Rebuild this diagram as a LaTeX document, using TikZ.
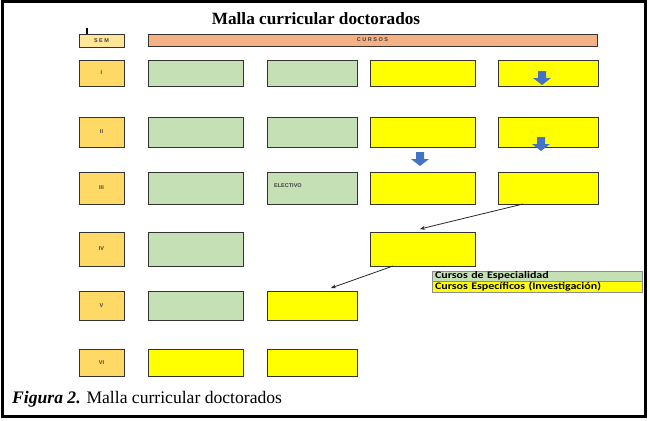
\documentclass[tikz,border=0pt]{standalone}
\usepackage{fontspec}
\setmainfont{Liberation Serif}
\setsansfont{Liberation Sans}
\newfontfamily\legendfont[FakeStretch=1.2]{Carlito}
\usetikzlibrary{arrows.meta,calc}
\definecolor{semcol}{HTML}{FFD966}
\definecolor{semhead}{HTML}{FFE699}
\definecolor{cursoscol}{HTML}{F4B183}
\definecolor{greencol}{HTML}{C5E0B4}
\definecolor{yellowcol}{HTML}{FFFF00}
\definecolor{bluecol}{HTML}{4472C4}
\definecolor{labelcol}{HTML}{404040}
\tikzset{
  cellbox/.style={draw=black!80, line width=0.8pt, anchor=north west, inner sep=0pt, outer sep=0pt},
  tinyfont/.style={font=\sffamily\bfseries\fontsize{5.5}{6}\selectfont, text=labelcol},
  semcell/.style={cellbox, fill=semcol, tinyfont},
  greencell/.style={cellbox, fill=greencol},
  yellowcell/.style={cellbox, fill=yellowcol},
  conn/.style={draw=black!85, line width=0.8pt, -{Stealth[length=5pt,width=4pt]}},
  legendrow/.style={anchor=north west, inner sep=0pt, outer sep=0pt, minimum width=210pt, text width=206pt, text height=6.5pt, text depth=2pt, align=left, font=\legendfont\bfseries\fontsize{10}{11}\selectfont, draw=black!45, line width=0.5pt},
}
\newcommand\blockdown[2]{%
  \fill[bluecol] (#1-4,#2) -- (#1+4,#2) -- (#1+4,#2+7) -- (#1+9,#2+7) -- (#1,#2+14) -- (#1-9,#2+7) -- (#1-4,#2+7) -- cycle;}
\begin{document}
\begin{tikzpicture}[x=1pt,y=-1pt]
\useasboundingbox (0,0) rectangle (650,420);
\draw[line width=3pt] (2,2) rectangle (645,416);
\node[font=\bfseries\fontsize{17.2}{19}\selectfont] (title) at (316,19) {Malla curricular doctorados};
\draw[line width=1.5pt] (87,28) -- (87,34);
% header
\node[cellbox, fill=semhead, minimum width=45pt, minimum height=13pt, tinyfont] (sem) at (79,34) {S E M};
\node[cellbox, fill=cursoscol, minimum width=449pt, minimum height=12pt, tinyfont] (cursos) at (148,34) {C U R S O S};
% row I
\node[semcell, minimum width=45pt, minimum height=26pt] (s1) at (79,60) {I};
\node[greencell, minimum width=95pt, minimum height=26pt] (r1c1) at (148,60) {};
\node[greencell, minimum width=90pt, minimum height=26pt] (r1c2) at (267,60) {};
\node[yellowcell, minimum width=105pt, minimum height=26pt] (r1c3) at (370,60) {};
\node[yellowcell, minimum width=100pt, minimum height=26pt] (r1c4) at (498,60) {};
% row II
\node[semcell, minimum width=45pt, minimum height=30pt] (s2) at (79,117) {II};
\node[greencell, minimum width=95pt, minimum height=30pt] (r2c1) at (148,117) {};
\node[greencell, minimum width=90pt, minimum height=30pt] (r2c2) at (267,117) {};
\node[yellowcell, minimum width=105pt, minimum height=30pt] (r2c3) at (370,117) {};
\node[yellowcell, minimum width=100pt, minimum height=30pt] (r2c4) at (498,117) {};
% row III
\node[semcell, minimum width=45pt, minimum height=32pt] (s3) at (79,172) {III};
\node[greencell, minimum width=95pt, minimum height=32pt] (r3c1) at (148,172) {};
\node[greencell, minimum width=90pt, minimum height=32pt] (r3c2) at (267,172) {};
\node[anchor=west, inner sep=0pt, tinyfont] (elec) at (274,186) {ELECTIVO};
\node[yellowcell, minimum width=105pt, minimum height=32pt] (r3c3) at (370,172) {};
\node[yellowcell, minimum width=100pt, minimum height=32pt] (r3c4) at (498,172) {};
% row IV
\node[semcell, minimum width=45pt, minimum height=34pt] (s4) at (79,232) {IV};
\node[greencell, minimum width=95pt, minimum height=34pt] (r4c1) at (148,232) {};
\node[yellowcell, minimum width=105pt, minimum height=34pt] (r4c3) at (370,232) {};
% row V
\node[semcell, minimum width=45pt, minimum height=29pt] (s5) at (79,291) {V};
\node[greencell, minimum width=95pt, minimum height=29pt] (r5c1) at (148,291) {};
\node[yellowcell, minimum width=90pt, minimum height=29pt] (r5c2) at (267,291) {};
% row VI
\node[semcell, minimum width=45pt, minimum height=27pt] (s6) at (79,349) {VI};
\node[yellowcell, minimum width=95pt, minimum height=27pt] (r6c1) at (148,349) {};
\node[yellowcell, minimum width=90pt, minimum height=27pt] (r6c2) at (267,349) {};
% block arrows
\blockdown{542}{71}
\blockdown{420}{152}
\blockdown{541}{137}
% connectors
\coordinate (t1) at ($(r4c3.north west)+(50,-3)$);
\coordinate (t2) at ($(r5c2.north west)+(64,-3)$);
\draw[conn] ($(r3c4.south west)+(25,0)$) -- (t1);
\draw[conn] ($(r4c3.south west)+(23,0)$) -- (t2);
% legend
\node[legendrow, fill=greencol, minimum height=10.5pt] (leg1) at (432,271) {\hspace{1pt}Cursos de Especialidad};
\node[legendrow, fill=yellowcol, minimum height=10.5pt] (leg2) at (432,281.5) {\hspace{1pt}Cursos Específicos (Investigación)};
% caption
\node[anchor=base west, inner sep=0pt, font=\fontsize{17.6}{19}\selectfont] (cap) at (12,403) {\textbf{\textit{Figura 2.}} Malla curricular doctorados};
\end{tikzpicture}
\end{document}
